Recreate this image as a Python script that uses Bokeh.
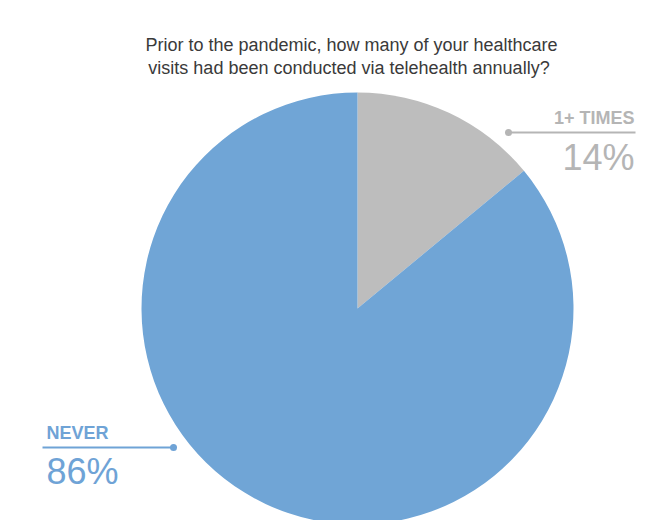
import numpy as np
from bokeh.plotting import figure
from bokeh.models import Range1d, ColumnDataSource
from bokeh.core.properties import value
from bokeh.embed import file_html
from bokeh.resources import INLINE

title_lines = ["Prior to the pandemic, how many of your healthcare",
               "visits had been conducted via telehealth  annually?"]
categories = ["1+ TIMES", "NEVER"]
percents = [14, 86]
colors = ["#bdbdbd", "#70a5d6"]

W, H = 653, 520
# data coords: x = screen px, y = 528 - screen py
p = figure(width=W, height=H, output_backend="svg", toolbar_location=None,
           x_range=Range1d(0, W), y_range=Range1d(528 - H, 528),
           min_border=0)
p.axis.visible = False
p.grid.visible = False
p.outline_line_color = None
p.background_fill_color = "white"
p.border_fill_color = "white"

def Y(py):
    return 528 - py

cx, cy, r = 357, Y(308), 216
frac = np.array(percents) / sum(percents)
ends = np.pi / 2 - 2 * np.pi * np.cumsum(frac)
starts = np.concatenate([[np.pi / 2], ends[:-1]])
src = ColumnDataSource(dict(cat=categories, start=starts, end=ends, color=colors))
p.wedge(x=cx, y=cy, radius=r, start_angle="start", end_angle="end",
        direction="clock", fill_color="color", line_color=None, source=src)

# title
for i, t in enumerate(title_lines):
    p.text(x=[351], y=[Y(44 + 23 * i)], text=[t], text_align="center",
           text_baseline="middle", text_font=value("Liberation Sans"),
           text_font_size="18px", text_color="#3a3a3a")

# label for 1+ TIMES (right)
gray = "#b5b5b5"
p.text(x=[634], y=[Y(117)], text=[categories[0]], text_align="right",
       text_baseline="middle", text_font=value("Liberation Sans"),
       text_font_style="bold", text_font_size="18px", text_color=gray)
p.line(x=[508, 635], y=[Y(132), Y(132)], line_color=gray, line_width=2)
p.scatter(x=[508], y=[Y(132)], size=7, fill_color=gray, line_color=None)
p.text(x=[634], y=[Y(157)], text=[f"{percents[0]}%"], text_align="right",
       text_baseline="middle", text_font=value("Liberation Sans"),
       text_font_size="36px", text_color=gray)

# label for NEVER (left)
blue = "#6fa3d6"
p.text(x=[46], y=[Y(432)], text=[categories[1]], text_align="left",
       text_baseline="middle", text_font=value("Liberation Sans"),
       text_font_style="bold", text_font_size="18px", text_color=blue)
p.line(x=[42, 173], y=[Y(447), Y(447)], line_color=blue, line_width=2)
p.scatter(x=[173], y=[Y(447)], size=7, fill_color=blue, line_color=None)
p.text(x=[46], y=[Y(471)], text=[f"{percents[1]}%"], text_align="left",
       text_baseline="middle", text_font=value("Liberation Sans"),
       text_font_size="36px", text_color=blue)

open("out.html", "w").write(file_html(p, INLINE))
